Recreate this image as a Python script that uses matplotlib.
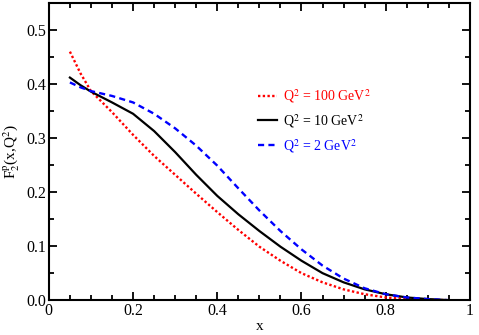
import numpy as np
import matplotlib
matplotlib.use('Agg')
import matplotlib.pyplot as plt
from matplotlib.ticker import MultipleLocator

x = [0.05, 0.075, 0.1, 0.15, 0.2, 0.25, 0.3, 0.35, 0.4, 0.45, 0.5,
     0.55, 0.6, 0.65, 0.7, 0.75, 0.8, 0.85, 0.9, 0.95]
f2_q100 = [0.46, 0.42, 0.387, 0.348, 0.306, 0.267, 0.232, 0.197, 0.163, 0.13, 0.099,
           0.073, 0.05, 0.033, 0.02, 0.011, 0.005, 0.002, 0.0005, 0.0]
f2_q10 = [0.412, 0.398, 0.386, 0.366, 0.345, 0.313, 0.274, 0.232, 0.193, 0.159, 0.128,
          0.099, 0.073, 0.05, 0.033, 0.02, 0.011, 0.005, 0.002, 0.0]
f2_q2 = [0.403, 0.394, 0.387, 0.378, 0.366, 0.345, 0.318, 0.286, 0.249, 0.207, 0.166,
         0.128, 0.094, 0.064, 0.04, 0.022, 0.011, 0.005, 0.002, 0.0]
labels = [r'Q$^2$ = 100 GeV$^2$', r'Q$^2$ = 10 GeV$^2$', r'Q$^2$ = 2 GeV$^2$']
xtick_labels = ['0', '0.2', '0.4', '0.6', '0.8', '1']
ytick_labels = ['0.0', '0.1', '0.2', '0.3', '0.4', '0.5']

plt.rcParams['font.family'] = ['Liberation Serif', 'DejaVu Serif']
plt.rcParams['mathtext.fontset'] = 'stix'

fig = plt.figure(figsize=(4.79, 3.35), dpi=100)
ax = fig.add_axes([0.102, 0.104, 0.879, 0.887])

ax.plot(x, f2_q100, color='red', ls=(0, (1, 1)), lw=1.7, label=labels[0])
ax.plot(x, f2_q10, color='black', ls='-', lw=1.6, label=labels[1])
ax.plot(x, f2_q2, color='blue', ls=(0, (2.6, 1.8)), lw=1.7, label=labels[2])

ax.set_xlim(0, 1)
ax.set_ylim(0, 0.55)
ax.set_xticks([0, 0.2, 0.4, 0.6, 0.8, 1.0])
ax.set_xticklabels(xtick_labels)
ax.set_yticks([0, 0.1, 0.2, 0.3, 0.4, 0.5])
ax.set_yticklabels(ytick_labels)
ax.xaxis.set_minor_locator(MultipleLocator(0.05))
ax.yaxis.set_minor_locator(MultipleLocator(0.05))
ax.tick_params(which='both', direction='in', top=True, right=True, width=1.3,
               labelsize=11.5, pad=2)
ax.tick_params(which='major', length=6)
ax.tick_params(which='minor', length=3.5)
for s in ax.spines.values():
    s.set_linewidth(1.5)

ax.set_xlabel('x', fontsize=11, labelpad=1)
ax.set_ylabel(r'F$_2^{\rm p}$(x,Q$^2$)', fontsize=11, labelpad=3)

leg = ax.legend(loc='upper left', bbox_to_anchor=(0.48, 0.74), frameon=False,
                labelcolor='linecolor', handlelength=1.4, handletextpad=0.4,
                fontsize=10, labelspacing=0.5, borderpad=0)

fig.savefig('out.png', dpi=100)
